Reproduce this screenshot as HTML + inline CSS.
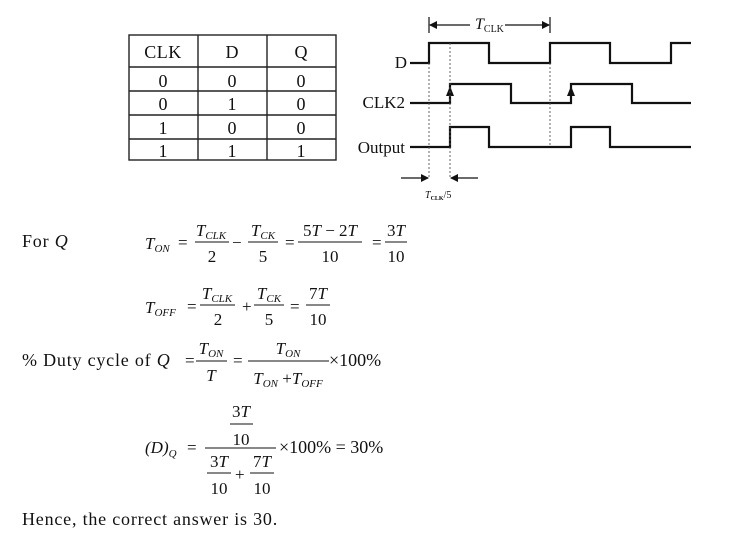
<!DOCTYPE html>
<html><head><style>
body{margin:0;background:#fff;}
svg{display:block;}
text{font-family:"Liberation Serif",serif;fill:#111;}
.i{font-style:italic;}
.p{font-size:18px;letter-spacing:0.8px;}
</style></head><body>
<svg width="735" height="549" viewBox="0 0 735 549" xmlns="http://www.w3.org/2000/svg">
<defs>
<marker id="ar" markerWidth="8" markerHeight="8" refX="7" refY="4" orient="auto" markerUnits="userSpaceOnUse"><path d="M0,0 L8,4 L0,8z" fill="#111"/></marker>
</defs>
<g stroke="#222" stroke-width="1.4" fill="none">
<rect x="129" y="35" width="207" height="125"/>
<line x1="129" y1="67" x2="336" y2="67"/>
<line x1="129" y1="91" x2="336" y2="91"/>
<line x1="129" y1="115" x2="336" y2="115"/>
<line x1="129" y1="139" x2="336" y2="139"/>
<line x1="198" y1="35" x2="198" y2="160"/>
<line x1="267" y1="35" x2="267" y2="160"/>
</g>
<g font-size="18" text-anchor="middle">
<text x="163" y="58" letter-spacing="0.5">CLK</text><text x="232" y="58">D</text><text x="301" y="58">Q</text>
<text x="163" y="87">0</text><text x="232" y="87">0</text><text x="301" y="87">0</text>
<text x="163" y="110">0</text><text x="232" y="110">1</text><text x="301" y="110">0</text>
<text x="163" y="134">1</text><text x="232" y="134">0</text><text x="301" y="134">0</text>
<text x="163" y="157">1</text><text x="232" y="157">1</text><text x="301" y="157">1</text>
</g>
<g stroke="#111" stroke-width="2.2" fill="none">
<polyline points="410,63 429,63 429,43 489,43 489,63 550,63 550,43 610,43 610,63 671,63 671,43 691,43"/>
<polyline points="410,103 450,103 450,84 511,84 511,103 571,103 571,84 632,84 632,103 691,103"/>
<polyline points="410,147 450,147 450,127 489,127 489,147 571,147 571,127 610,127 610,147 691,147"/>
</g>
<path d="M446,96 L450,86 L454,96z M567,96 L571,86 L575,96z" fill="#111"/>
<g stroke="#555" stroke-width="0.9" stroke-dasharray="2,2">
<line x1="429" y1="63" x2="429" y2="178"/>
<line x1="450" y1="43" x2="450" y2="178"/>
<line x1="550" y1="63" x2="550" y2="146"/>
</g>
<g stroke="#111" stroke-width="1.2">
<line x1="429" y1="17" x2="429" y2="33"/>
<line x1="550" y1="17" x2="550" y2="33"/>
<line x1="470" y1="25" x2="430" y2="25" marker-end="url(#ar)"/>
<line x1="505" y1="25" x2="549" y2="25" marker-end="url(#ar)"/>
<line x1="401" y1="178" x2="428" y2="178" marker-end="url(#ar)"/>
<line x1="478" y1="178" x2="451" y2="178" marker-end="url(#ar)"/>
</g>
<text x="475" y="29" font-size="16" class="i">T<tspan font-size="10" font-style="normal" dy="3">CLK</tspan></text>
<text x="425" y="198" font-size="10" class="i">T<tspan font-size="6" font-style="normal" font-weight="bold" dy="2">CLK</tspan><tspan font-style="normal" dy="-2">/5</tspan></text>
<g font-size="17" text-anchor="end">
<text x="407" y="68">D</text>
<text x="405" y="108">CLK2</text>
<text x="405" y="153">Output</text>
</g>
<g font-size="17">
<text x="22" y="247" class="p">For <tspan class="i">Q</tspan></text>
<text x="145" y="249" class="i">T<tspan font-size="11" dy="3">ON</tspan></text>
<text x="178" y="248">=</text>
<text x="211" y="236" text-anchor="middle" class="i">T<tspan font-size="11" dy="3">CLK</tspan></text>
<text x="212" y="262" text-anchor="middle">2</text>
<text x="232" y="248">−</text>
<text x="263" y="236" text-anchor="middle" class="i">T<tspan font-size="11" dy="3">CK</tspan></text>
<text x="263" y="262" text-anchor="middle">5</text>
<text x="285" y="248">=</text>
<text x="330" y="236" text-anchor="middle">5<tspan class="i">T</tspan> − 2<tspan class="i">T</tspan></text>
<text x="330" y="262" text-anchor="middle">10</text>
<text x="372" y="248">=</text>
<text x="396" y="236" text-anchor="middle">3<tspan class="i">T</tspan></text>
<text x="396" y="262" text-anchor="middle">10</text>

<text x="145" y="313" class="i">T<tspan font-size="11" dy="3">OFF</tspan></text>
<text x="187" y="312">=</text>
<text x="217" y="299" text-anchor="middle" class="i">T<tspan font-size="11" dy="3">CLK</tspan></text>
<text x="218" y="325" text-anchor="middle">2</text>
<text x="242" y="312">+</text>
<text x="269" y="299" text-anchor="middle" class="i">T<tspan font-size="11" dy="3">CK</tspan></text>
<text x="269" y="325" text-anchor="middle">5</text>
<text x="290" y="312">=</text>
<text x="318" y="299" text-anchor="middle">7<tspan class="i">T</tspan></text>
<text x="318" y="325" text-anchor="middle">10</text>

<text x="22" y="366" class="p">% Duty cycle of <tspan class="i">Q</tspan></text>
<text x="185" y="366">=</text>
<text x="211" y="354" text-anchor="middle" class="i">T<tspan font-size="11" dy="3">ON</tspan></text>
<text x="211" y="381" text-anchor="middle" class="i">T</text>
<text x="233" y="366">=</text>
<text x="288" y="354" text-anchor="middle" class="i">T<tspan font-size="11" dy="3">ON</tspan></text>
<text x="288" y="384" text-anchor="middle" class="i">T<tspan font-size="11" dy="3">ON</tspan><tspan font-style="normal" dy="-3"> +</tspan>T<tspan font-size="11" dy="3">OFF</tspan></text>
<text x="329" y="366" font-size="18">×100%</text>

<text x="145" y="453"><tspan class="i">(D)</tspan><tspan font-size="11" class="i" dy="4">Q</tspan></text>
<text x="187" y="453">=</text>
<text x="241" y="417" text-anchor="middle">3<tspan class="i">T</tspan></text>
<text x="241" y="445" text-anchor="middle">10</text>
<text x="219" y="467" text-anchor="middle">3<tspan class="i">T</tspan></text>
<text x="219" y="494" text-anchor="middle">10</text>
<text x="235" y="480">+</text>
<text x="262" y="467" text-anchor="middle">7<tspan class="i">T</tspan></text>
<text x="262" y="494" text-anchor="middle">10</text>
<text x="279" y="453" font-size="18">×100% = 30%</text>

<text x="22" y="525" class="p">Hence, the correct answer is 30.</text>
</g>
<g stroke="#111" stroke-width="1">
<line x1="195" y1="242" x2="229" y2="242"/>
<line x1="248" y1="242" x2="278" y2="242"/>
<line x1="298" y1="242" x2="362" y2="242"/>
<line x1="385" y1="242" x2="407" y2="242"/>
<line x1="200" y1="305" x2="235" y2="305"/>
<line x1="254" y1="305" x2="284" y2="305"/>
<line x1="306" y1="305" x2="330" y2="305"/>
<line x1="196" y1="361" x2="227" y2="361"/>
<line x1="248" y1="361" x2="329" y2="361"/>
<line x1="205" y1="448" x2="276" y2="448"/>
<line x1="230" y1="424" x2="253" y2="424"/>
<line x1="207" y1="473" x2="231" y2="473"/>
<line x1="250" y1="473" x2="274" y2="473"/>
</g>
</svg>
</body></html>
